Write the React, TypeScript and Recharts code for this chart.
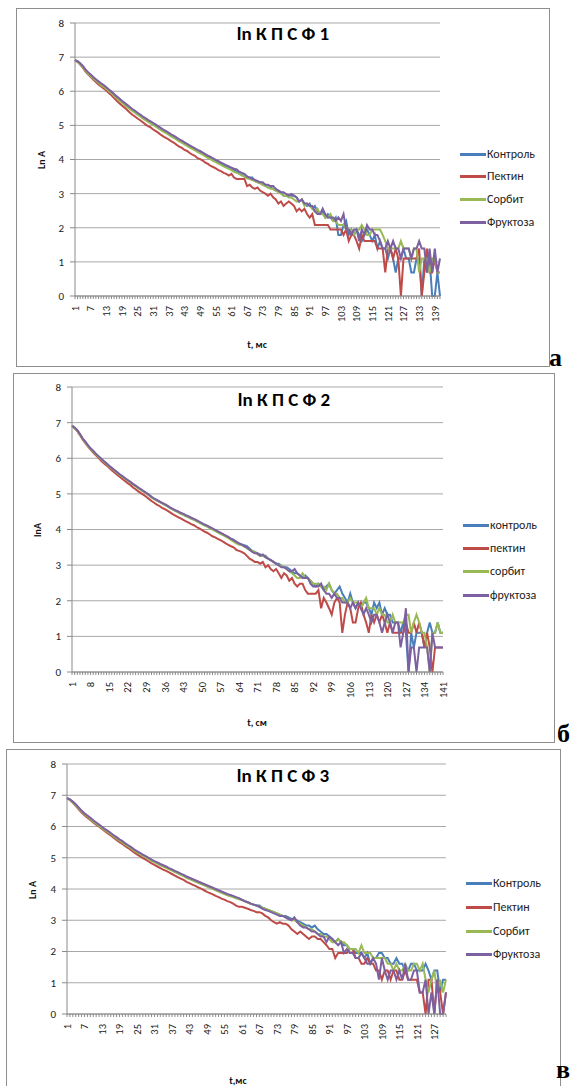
import React from 'react';
import { LineChart, Line, XAxis, YAxis, CartesianGrid } from 'recharts';

// ---------- categories (t) ----------
const p1T: number[] = Array.from({ length: 141 }, (_, i) => i + 1);
const p2T: number[] = Array.from({ length: 141 }, (_, i) => i + 1);
const p3T: number[] = Array.from({ length: 131 }, (_, i) => i + 1);
const yTicks = [0, 1, 2, 3, 4, 5, 6, 7, 8];

// ---------- panel 1 : ln К П С Ф 1 ----------
const p1Control = [
  6.91, 6.87, 6.80, 6.72, 6.62, 6.54, 6.47, 6.40, 6.33, 6.27,
  6.21, 6.16, 6.10, 6.03, 5.97, 5.90, 5.83, 5.77, 5.70, 5.64,
  5.58, 5.52, 5.46, 5.41, 5.35, 5.30, 5.24, 5.19, 5.14, 5.10,
  5.05, 5.00, 4.95, 4.90, 4.85, 4.81, 4.76, 4.71, 4.67, 4.62,
  4.57, 4.53, 4.48, 4.44, 4.39, 4.35, 4.31, 4.26, 4.22, 4.18,
  4.13, 4.09, 4.05, 4.00, 3.96, 3.93, 3.87, 3.85, 3.79, 3.78,
  3.71, 3.69, 3.64, 3.58, 3.56, 3.50, 3.50, 3.47, 3.47, 3.37,
  3.33, 3.33, 3.26, 3.26, 3.18, 3.18, 3.14, 3.09, 3.09, 3.04,
  2.94, 2.94, 2.96, 2.94, 2.94, 2.89, 2.77, 2.83, 2.71, 2.64,
  2.71, 2.56, 2.64, 2.48, 2.40, 2.48, 2.30, 2.40, 2.30, 2.20,
  2.30, 1.79, 1.79, 2.08, 2.20, 1.79, 1.95, 1.79, 1.95, 1.79,
  1.61, 1.79, 1.95, 1.79, 1.61, 1.79, 1.39, 1.61, 1.39, 1.39,
  1.10, 1.39, 1.10, 0.69, 1.10, 1.10, 1.39, 1.10, 1.10, 0.69,
  0.69, 1.10, 1.10, 0, 1.10, 0.69, 1.10, 0, 0, 0.69, 0,
];
const p1Pectin = [
  6.91, 6.86, 6.78, 6.69, 6.58, 6.50, 6.42, 6.34, 6.27, 6.20,
  6.14, 6.08, 6.02, 5.95, 5.88, 5.80, 5.72, 5.65, 5.58, 5.52,
  5.45, 5.38, 5.31, 5.26, 5.20, 5.15, 5.09, 5.03, 4.98, 4.94,
  4.88, 4.83, 4.78, 4.72, 4.67, 4.63, 4.58, 4.53, 4.49, 4.43,
  4.38, 4.34, 4.28, 4.25, 4.19, 4.14, 4.11, 4.04, 4.01, 3.97,
  3.91, 3.87, 3.81, 3.78, 3.74, 3.69, 3.66, 3.61, 3.58, 3.53,
  3.58, 3.47, 3.43, 3.43, 3.43, 3.43, 3.22, 3.26, 3.18, 3.14,
  3.18, 3.09, 3.04, 3.00, 2.94, 3.00, 2.89, 2.83, 2.71, 2.77,
  2.64, 2.71, 2.77, 2.71, 2.64, 2.48, 2.56, 2.48, 2.56, 2.40,
  2.30, 2.40, 2.08, 2.08, 2.08, 2.08, 2.08, 2.08, 1.95, 1.95,
  1.95, 1.95, 1.95, 1.79, 1.95, 1.61, 1.79, 1.79, 1.61, 1.39,
  1.79, 1.61, 1.61, 1.61, 1.61, 1.61, 1.39, 1.39, 1.39, 0.69,
  1.39, 1.39, 1.10, 1.39, 1.10, 0, 1.10, 1.10, 1.10, 1.10,
  1.10, 1.10, 1.39, 0, 0.69, 1.39, 0.69, 0.69, 1.10, 0.69, 0.69,
];
const p1Sorbit = [
  6.91, 6.86, 6.79, 6.71, 6.61, 6.52, 6.45, 6.38, 6.31, 6.25,
  6.18, 6.13, 6.07, 6.00, 5.94, 5.87, 5.80, 5.73, 5.66, 5.60,
  5.54, 5.48, 5.42, 5.37, 5.31, 5.26, 5.20, 5.15, 5.10, 5.06,
  5.01, 4.96, 4.91, 4.86, 4.81, 4.77, 4.72, 4.67, 4.63, 4.58,
  4.53, 4.49, 4.44, 4.40, 4.35, 4.31, 4.27, 4.22, 4.18, 4.14,
  4.09, 4.05, 4.01, 3.96, 3.92, 3.88, 3.84, 3.80, 3.76, 3.73,
  3.69, 3.64, 3.61, 3.58, 3.53, 3.50, 3.45, 3.43, 3.40, 3.37,
  3.33, 3.30, 3.26, 3.22, 3.18, 3.14, 3.14, 3.09, 3.04, 3.00,
  2.94, 2.94, 2.89, 2.89, 2.83, 2.77, 2.77, 2.83, 2.64, 2.71,
  2.64, 2.56, 2.48, 2.56, 2.40, 2.40, 2.30, 2.30, 2.40, 2.20,
  2.20, 2.08, 2.08, 2.08, 1.95, 1.95, 1.95, 1.79, 1.95, 1.95,
  2.08, 1.95, 1.79, 1.79, 1.95, 1.95, 1.95, 1.95, 1.79, 1.61,
  1.39, 1.39, 1.39, 1.39, 1.39, 1.61, 1.39, 1.39, 1.39, 1.10,
  1.39, 1.39, 0.69, 1.10, 1.10, 1.10, 0.69, 1.10, 1.10, 0.69, 0.69,
];
const p1Fructose = [
  6.91, 6.88, 6.82, 6.74, 6.64, 6.56, 6.49, 6.42, 6.35, 6.29,
  6.23, 6.18, 6.12, 6.05, 5.99, 5.92, 5.85, 5.79, 5.72, 5.66,
  5.60, 5.54, 5.48, 5.43, 5.37, 5.32, 5.26, 5.21, 5.16, 5.12,
  5.07, 5.02, 4.97, 4.92, 4.87, 4.83, 4.78, 4.73, 4.69, 4.64,
  4.59, 4.55, 4.50, 4.46, 4.41, 4.37, 4.33, 4.28, 4.25, 4.20,
  4.16, 4.11, 4.08, 4.03, 3.99, 3.95, 3.91, 3.87, 3.83, 3.80,
  3.76, 3.73, 3.71, 3.64, 3.61, 3.58, 3.50, 3.47, 3.43, 3.40,
  3.37, 3.33, 3.33, 3.26, 3.26, 3.22, 3.22, 3.14, 3.09, 3.04,
  3.04, 2.99, 2.94, 2.99, 2.94, 2.89, 2.77, 2.83, 2.71, 2.71,
  2.64, 2.64, 2.48, 2.40, 2.40, 2.56, 2.40, 2.30, 2.30, 2.30,
  2.20, 2.30, 2.20, 2.40, 1.95, 1.95, 1.79, 1.95, 1.95, 1.61,
  1.95, 1.79, 2.08, 1.95, 1.95, 1.79, 1.79, 1.61, 1.39, 1.39,
  1.61, 1.39, 1.61, 1.39, 1.39, 1.10, 1.39, 1.39, 1.39, 1.10,
  1.39, 1.39, 1.61, 1.39, 1.39, 0.69, 1.39, 0.69, 1.39, 0.69, 1.10,
];

// ---------- panel 2 : ln К П С Ф 2 ----------
const p2Control = [
  6.91, 6.85, 6.78, 6.67, 6.55, 6.46, 6.36, 6.27, 6.20, 6.12,
  6.05, 5.98, 5.91, 5.85, 5.78, 5.72, 5.66, 5.60, 5.54, 5.49,
  5.43, 5.38, 5.33, 5.27, 5.22, 5.17, 5.12, 5.07, 5.02, 4.97,
  4.91, 4.86, 4.82, 4.78, 4.74, 4.70, 4.66, 4.61, 4.57, 4.53,
  4.50, 4.46, 4.43, 4.39, 4.36, 4.32, 4.29, 4.25, 4.21, 4.17,
  4.13, 4.10, 4.06, 4.02, 3.98, 3.94, 3.90, 3.86, 3.82, 3.78,
  3.74, 3.71, 3.64, 3.61, 3.58, 3.56, 3.53, 3.47, 3.40, 3.37,
  3.33, 3.30, 3.26, 3.26, 3.18, 3.14, 3.09, 3.04, 3.04, 2.99,
  2.94, 2.94, 2.89, 2.83, 2.77, 2.77, 2.71, 2.64, 2.71, 2.64,
  2.56, 2.48, 2.40, 2.48, 2.40, 2.30, 2.40, 2.48, 2.30, 2.20,
  2.30, 2.40, 2.20, 2.08, 1.95, 2.20, 1.95, 1.79, 1.95, 1.79,
  1.95, 1.95, 1.79, 1.61, 1.95, 1.79, 1.95, 1.61, 1.79, 1.61,
  1.61, 1.39, 1.39, 1.39, 1.10, 1.39, 1.10, 0, 1.10, 0.69,
  1.10, 1.10, 1.10, 0.69, 1.10, 1.39, 1.10, 1.10, 1.39, 1.10, 1.10,
];
const p2Pectin = [
  6.91, 6.84, 6.76, 6.65, 6.53, 6.43, 6.33, 6.24, 6.16, 6.08,
  6.01, 5.93, 5.86, 5.80, 5.73, 5.66, 5.60, 5.54, 5.48, 5.42,
  5.36, 5.30, 5.25, 5.18, 5.13, 5.07, 5.02, 4.97, 4.92, 4.86,
  4.80, 4.75, 4.70, 4.66, 4.61, 4.57, 4.53, 4.48, 4.43, 4.39,
  4.35, 4.31, 4.27, 4.23, 4.19, 4.15, 4.12, 4.07, 4.03, 3.99,
  3.94, 3.91, 3.86, 3.81, 3.78, 3.74, 3.70, 3.66, 3.61, 3.57,
  3.53, 3.50, 3.43, 3.40, 3.37, 3.33, 3.26, 3.18, 3.14, 3.09,
  3.09, 3.04, 3.09, 2.94, 3.00, 2.89, 2.83, 2.89, 2.77, 2.64,
  2.77, 2.71, 2.56, 2.64, 2.48, 2.40, 2.48, 2.48, 2.30, 2.20,
  2.20, 2.20, 2.20, 2.30, 1.79, 2.08, 1.95, 1.79, 1.61, 1.95,
  2.08, 1.95, 1.10, 1.61, 1.95, 1.79, 1.39, 1.39, 1.79, 1.95,
  1.61, 1.39, 1.10, 1.61, 1.39, 1.61, 1.39, 1.61, 1.39, 1.10,
  1.39, 1.10, 1.10, 1.10, 1.10, 1.10, 1.39, 1.10, 1.10, 1.39,
  1.10, 1.39, 1.10, 0.69, 1.10, 0.69, 0, 0.69, 0.69, 0.69, 0.69,
];
const p2Sorbit = [
  6.91, 6.84, 6.77, 6.66, 6.54, 6.45, 6.35, 6.26, 6.19, 6.11,
  6.04, 5.97, 5.90, 5.84, 5.77, 5.71, 5.65, 5.59, 5.53, 5.48,
  5.42, 5.37, 5.32, 5.26, 5.21, 5.16, 5.11, 5.06, 5.01, 4.96,
  4.90, 4.85, 4.81, 4.77, 4.73, 4.69, 4.65, 4.60, 4.56, 4.52,
  4.48, 4.44, 4.41, 4.37, 4.34, 4.30, 4.27, 4.23, 4.19, 4.15,
  4.11, 4.08, 4.04, 4.00, 3.96, 3.92, 3.88, 3.84, 3.80, 3.76,
  3.71, 3.66, 3.61, 3.58, 3.56, 3.53, 3.47, 3.43, 3.40, 3.37,
  3.30, 3.26, 3.26, 3.22, 3.18, 3.14, 3.09, 3.04, 3.00, 2.99,
  2.94, 2.89, 2.83, 2.77, 2.71, 2.64, 2.64, 2.77, 2.64, 2.64,
  2.56, 2.48, 2.48, 2.48, 2.40, 2.40, 2.30, 2.48, 2.30, 2.20,
  2.20, 2.08, 2.08, 1.95, 1.95, 2.08, 1.95, 1.95, 1.95, 1.79,
  1.95, 2.08, 1.79, 1.79, 1.79, 1.61, 1.79, 1.61, 1.61, 1.39,
  1.39, 1.61, 1.39, 1.39, 1.39, 1.39, 1.61, 1.61, 1.10, 1.39,
  1.61, 1.39, 1.10, 1.10, 0.69, 0, 1.10, 1.10, 1.39, 1.10, 1.10,
];
const p2Fructose = [
  6.91, 6.86, 6.79, 6.68, 6.56, 6.47, 6.37, 6.28, 6.21, 6.13,
  6.06, 5.99, 5.92, 5.86, 5.79, 5.73, 5.67, 5.61, 5.55, 5.50,
  5.44, 5.39, 5.34, 5.28, 5.23, 5.18, 5.13, 5.08, 5.03, 4.98,
  4.92, 4.87, 4.83, 4.79, 4.75, 4.71, 4.67, 4.62, 4.58, 4.54,
  4.51, 4.47, 4.44, 4.40, 4.37, 4.33, 4.30, 4.26, 4.22, 4.18,
  4.14, 4.11, 4.07, 4.03, 3.99, 3.95, 3.91, 3.87, 3.83, 3.79,
  3.74, 3.70, 3.66, 3.61, 3.58, 3.53, 3.50, 3.43, 3.37, 3.33,
  3.33, 3.26, 3.30, 3.22, 3.18, 3.14, 3.09, 3.04, 2.99, 2.94,
  2.94, 2.89, 2.83, 2.83, 2.89, 2.77, 2.71, 2.64, 2.64, 2.64,
  2.48, 2.40, 2.40, 2.40, 2.48, 2.30, 2.20, 2.20, 2.08, 2.20,
  2.08, 2.08, 1.95, 1.95, 1.95, 1.79, 1.95, 1.79, 1.95, 1.79,
  1.61, 1.79, 1.61, 1.39, 1.61, 1.61, 1.39, 1.10, 1.39, 1.61,
  1.39, 1.10, 1.39, 1.39, 0.69, 1.10, 1.79, 0, 0.69, 0.69,
  0, 0.69, 0.69, 0.69, 0.69, 0, 1.10, 0.69, 0.69, 0.69, 0.69,
];

// ---------- panel 3 : ln К П С Ф 3 ----------
const p3Control = [
  6.91, 6.86, 6.78, 6.69, 6.59, 6.49, 6.40, 6.33, 6.26, 6.18,
  6.11, 6.04, 5.97, 5.90, 5.84, 5.77, 5.70, 5.64, 5.57, 5.51,
  5.44, 5.38, 5.32, 5.25, 5.19, 5.14, 5.08, 5.03, 4.98, 4.92,
  4.87, 4.83, 4.78, 4.74, 4.70, 4.65, 4.61, 4.56, 4.52, 4.47,
  4.43, 4.38, 4.34, 4.30, 4.26, 4.22, 4.18, 4.14, 4.10, 4.06,
  4.02, 3.98, 3.94, 3.90, 3.86, 3.82, 3.79, 3.76, 3.72, 3.69,
  3.66, 3.61, 3.58, 3.53, 3.50, 3.47, 3.47, 3.40, 3.37, 3.33,
  3.30, 3.26, 3.22, 3.18, 3.14, 3.14, 3.09, 3.04, 3.04, 2.99,
  2.94, 2.89, 2.83, 2.83, 2.77, 2.83, 2.71, 2.64, 2.56, 2.56,
  2.48, 2.40, 2.30, 2.40, 2.30, 2.20, 2.20, 2.08, 2.08, 1.95,
  1.95, 1.95, 1.79, 1.95, 1.61, 1.79, 1.79, 1.95, 1.95, 1.79,
  1.79, 1.61, 1.61, 1.79, 1.61, 1.61, 1.39, 1.39, 1.61, 1.61,
  1.39, 1.39, 1.39, 1.61, 1.39, 1.10, 1.39, 1.39, 0.69, 1.10, 1.10,
];
const p3Pectin = [
  6.91, 6.85, 6.76, 6.66, 6.55, 6.45, 6.36, 6.28, 6.21, 6.13,
  6.06, 5.99, 5.92, 5.85, 5.78, 5.71, 5.64, 5.57, 5.50, 5.44,
  5.37, 5.31, 5.24, 5.17, 5.11, 5.05, 4.99, 4.94, 4.88, 4.82,
  4.77, 4.72, 4.67, 4.62, 4.58, 4.53, 4.48, 4.43, 4.38, 4.33,
  4.29, 4.23, 4.19, 4.14, 4.10, 4.05, 4.01, 3.96, 3.91, 3.87,
  3.83, 3.78, 3.74, 3.69, 3.66, 3.61, 3.58, 3.53, 3.47, 3.43,
  3.43, 3.40, 3.37, 3.33, 3.30, 3.26, 3.26, 3.22, 3.14, 3.09,
  3.00, 2.94, 2.89, 2.94, 2.89, 2.89, 2.83, 2.71, 2.64, 2.56,
  2.64, 2.56, 2.48, 2.40, 2.48, 2.48, 2.40, 2.40, 2.30, 2.20,
  2.08, 2.08, 1.79, 1.95, 1.95, 1.95, 1.95, 2.08, 2.08, 1.79,
  1.79, 1.61, 1.61, 1.79, 1.61, 1.61, 1.39, 1.39, 1.10, 1.39,
  1.39, 1.10, 1.39, 1.39, 1.10, 1.10, 1.39, 1.10, 1.10, 1.10,
  1.10, 0.69, 0.69, 0, 1.10, 1.10, 0, 1.10, 0.69, 0, 0.69,
];
const p3Sorbit = [
  6.91, 6.85, 6.77, 6.68, 6.58, 6.48, 6.39, 6.32, 6.24, 6.16,
  6.09, 6.02, 5.95, 5.88, 5.82, 5.75, 5.68, 5.62, 5.55, 5.49,
  5.42, 5.36, 5.30, 5.23, 5.17, 5.12, 5.06, 5.01, 4.96, 4.90,
  4.85, 4.81, 4.76, 4.72, 4.68, 4.63, 4.59, 4.54, 4.50, 4.45,
  4.41, 4.36, 4.32, 4.28, 4.24, 4.20, 4.16, 4.12, 4.08, 4.04,
  4.00, 3.96, 3.92, 3.88, 3.84, 3.80, 3.77, 3.74, 3.70, 3.67,
  3.65, 3.61, 3.56, 3.53, 3.50, 3.47, 3.43, 3.40, 3.37, 3.33,
  3.30, 3.26, 3.22, 3.18, 3.14, 3.09, 3.04, 3.00, 3.00, 2.94,
  2.89, 2.83, 2.77, 2.71, 2.71, 2.64, 2.56, 2.56, 2.48, 2.48,
  2.40, 2.30, 2.30, 2.40, 2.30, 2.30, 2.20, 2.08, 2.08, 2.08,
  1.95, 2.20, 1.95, 1.95, 1.95, 1.79, 1.79, 1.79, 1.79, 1.79,
  1.61, 1.61, 1.39, 1.61, 1.39, 1.39, 1.61, 1.39, 1.39, 1.61,
  1.61, 1.39, 1.61, 1.10, 0.69, 1.10, 1.39, 0.69, 1.10, 0.69, 1.10,
];
const p3Fructose = [
  6.91, 6.87, 6.80, 6.71, 6.61, 6.51, 6.42, 6.35, 6.28, 6.20,
  6.13, 6.06, 5.99, 5.92, 5.86, 5.79, 5.72, 5.66, 5.59, 5.53,
  5.46, 5.40, 5.34, 5.27, 5.21, 5.16, 5.10, 5.05, 5.00, 4.94,
  4.89, 4.85, 4.80, 4.76, 4.72, 4.67, 4.63, 4.58, 4.54, 4.49,
  4.45, 4.40, 4.36, 4.32, 4.28, 4.24, 4.20, 4.16, 4.12, 4.08,
  4.04, 4.00, 3.96, 3.92, 3.88, 3.84, 3.81, 3.78, 3.74, 3.71,
  3.65, 3.61, 3.58, 3.53, 3.50, 3.47, 3.43, 3.37, 3.33, 3.30,
  3.26, 3.22, 3.18, 3.14, 3.14, 3.09, 3.04, 3.00, 3.09, 2.94,
  2.83, 2.77, 2.77, 2.71, 2.64, 2.64, 2.56, 2.48, 2.48, 2.30,
  2.48, 2.40, 2.30, 2.20, 2.30, 1.95, 2.08, 1.95, 1.95, 1.79,
  1.79, 1.95, 1.79, 1.61, 1.61, 1.79, 1.61, 1.10, 1.79, 1.39,
  1.10, 1.39, 1.39, 1.10, 1.39, 1.10, 1.61, 1.10, 1.10, 1.39,
  1.39, 0.69, 0.69, 1.10, 0, 0.69, 0, 1.10, 0, 0, 0.69,
];

// ---------- legend names ----------
const namesCap = ['Контроль', 'Пектин', 'Сорбит', 'Фруктоза'];
const namesLow = ['контроль', 'пектин', 'сорбит', 'фруктоза'];
const seriesKeys = ['c', 'p', 's', 'f'];
const colors = ['#4a7ebb', '#be4b48', '#98b954', '#7d60a0'];

const FONT = "Carlito, Calibri, Roboto, 'Noto Sans', sans-serif";

const buildRows = (t: number[], c: number[], p: number[], s: number[], f: number[]) =>
  t.map((v, i) => ({ t: v, c: c[i], p: p[i], s: s[i], f: f[i] }));

const p1Rows = buildRows(p1T, p1Control, p1Pectin, p1Sorbit, p1Fructose);
const p2Rows = buildRows(p2T, p2Control, p2Pectin, p2Sorbit, p2Fructose);
const p3Rows = buildRows(p3T, p3Control, p3Pectin, p3Sorbit, p3Fructose);

const makeXTick = (every: number) => (props: any) => {
  const { x, y, payload } = props;
  const v = payload?.value;
  const show = (Number(v) - 1) % every === 0;
  return (
    <g transform={`translate(${x},${y})`}>
      <line x1={0} y1={0} x2={0} y2={3} stroke="#8a8a8a" strokeWidth={1} />
      {show && (
        <text
          transform="translate(0,10) rotate(-90)"
          textAnchor="end"
          dy="0.36em"
          fontSize={10.5}
          fontFamily={FONT}
          fill="#222"
        >
          {v}
        </text>
      )}
    </g>
  );
};

type Cfg = {
  left: number; top: number; w: number; h: number;
  yAxisW: number; marginRight: number; plotTop: number; xAxisH: number;
  rows: any[]; every: number; names: string[];
  title: string; yLabel: string; xLabel: string;
  titlePos: [number, number]; yLabelPos: [number, number]; xLabelPos: [number, number];
  legendX: number; legendYs: number[];
  frameH: number;
};

const Panel = ({ cfg }: { cfg: Cfg }) => (
  <div style={{ position: 'absolute', left: cfg.left, top: cfg.top, width: cfg.w, height: cfg.h }}>
    <div
      style={{
        position: 'absolute', left: 0, top: 0, width: cfg.w, height: cfg.frameH,
        border: '1px solid #8e8e8e', boxSizing: 'border-box', background: '#fff',
      }}
    />
    <div style={{ position: 'absolute', left: 0, top: 0 }}>
      <LineChart
        width={cfg.w}
        height={cfg.h}
        data={cfg.rows}
        margin={{ top: cfg.plotTop, right: cfg.marginRight, left: 0, bottom: 0 }}
        style={{ fontFamily: FONT }}
      >
        <CartesianGrid vertical={false} stroke="#a8a8a8" strokeWidth={1} />
        <XAxis
          dataKey="t"
          type="category"
          interval={0}
          tickLine={false}
          tickSize={0}
          tickMargin={0}
          height={cfg.xAxisH}
          axisLine={{ stroke: '#8a8a8a' }}
          tick={makeXTick(cfg.every)}
        />
        <YAxis
          type="number"
          domain={[0, 8]}
          ticks={yTicks}
          interval={0}
          width={cfg.yAxisW}
          tickSize={5}
          tickMargin={6}
          axisLine={{ stroke: '#8a8a8a' }}
          tickLine={{ stroke: '#8a8a8a' }}
          tick={{ fontSize: 11, fill: '#222', fontFamily: FONT }}
        />
        {seriesKeys.map((k, i) => (
          <Line
            key={k}
            type="linear"
            dataKey={k}
            name={cfg.names[i]}
            stroke={colors[i]}
            strokeWidth={2}
            dot={false}
            activeDot={false}
            isAnimationActive={false}
          />
        ))}
      </LineChart>
    </div>
    <div
      style={{
        position: 'absolute', left: cfg.titlePos[0], top: cfg.titlePos[1],
        transform: 'translate(-50%,-50%)', fontSize: 19, fontWeight: 700,
        whiteSpace: 'nowrap', fontFamily: FONT, color: '#000',
      }}
    >
      {cfg.title}
    </div>
    <div
      style={{
        position: 'absolute', left: cfg.yLabelPos[0], top: cfg.yLabelPos[1],
        transform: 'translate(-50%,-50%) rotate(-90deg)', fontSize: 10, fontWeight: 700,
        whiteSpace: 'nowrap', fontFamily: FONT, color: '#111',
      }}
    >
      {cfg.yLabel}
    </div>
    <div
      style={{
        position: 'absolute', left: cfg.xLabelPos[0], top: cfg.xLabelPos[1],
        transform: 'translate(-50%,-50%)', fontSize: 10, fontWeight: 700,
        whiteSpace: 'nowrap', fontFamily: FONT, color: '#111',
      }}
    >
      {cfg.xLabel}
    </div>
    {cfg.names.map((n, i) => (
      <React.Fragment key={n}>
        <div
          style={{
            position: 'absolute', left: cfg.legendX, top: cfg.legendYs[i] - 1.5,
            width: 26, height: 3, background: colors[i],
          }}
        />
        <div
          style={{
            position: 'absolute', left: cfg.legendX + 27, top: cfg.legendYs[i] - 7.5,
            fontSize: 12, lineHeight: '15px', whiteSpace: 'nowrap', fontFamily: FONT, color: '#222',
          }}
        >
          {n}
        </div>
      </React.Fragment>
    ))}
  </div>
);

const cfg1: Cfg = {
  left: 16, top: 8, w: 534, h: 359, frameH: 359,
  yAxisW: 59, marginRight: 110, plotTop: 15, xAxisH: 71,
  rows: p1Rows, every: 6, names: namesCap,
  title: 'ln К П С Ф 1', yLabel: 'Ln A', xLabel: 't, мс',
  titlePos: [267, 25], yLabelPos: [25, 152], xLabelPos: [241, 336],
  legendX: 444, legendYs: [146, 168, 191, 214],
};
const cfg2: Cfg = {
  left: 13, top: 373, w: 542, h: 370, frameH: 370,
  yAxisW: 59, marginRight: 112, plotTop: 14, xAxisH: 71,
  rows: p2Rows, every: 7, names: namesLow,
  title: 'ln К П С Ф 2', yLabel: 'lnA', xLabel: 't, см',
  titlePos: [271, 26], yLabelPos: [24, 157], xLabelPos: [244, 349],
  legendX: 450, legendYs: [152, 175, 198, 222],
};
const cfg3: Cfg = {
  left: 6, top: 749, w: 555, h: 360, frameH: 360,
  yAxisW: 61, marginRight: 115, plotTop: 15, xAxisH: 95,
  rows: p3Rows, every: 6, names: namesCap,
  title: 'ln К П С Ф 3', yLabel: 'Ln A', xLabel: 't,мс',
  titlePos: [277, 26], yLabelPos: [26, 141], xLabelPos: [232, 331],
  legendX: 460, legendYs: [134, 158, 182, 205],
};

const letterStyle: React.CSSProperties = {
  position: 'absolute', fontFamily: "'Times New Roman', 'Liberation Serif', serif",
  fontWeight: 700, fontSize: 26, lineHeight: '26px', color: '#000',
};

export default function App() {
  return (
    <div
      style={{
        position: 'absolute', left: 0, top: 0, width: 572, height: 1086,
        overflow: 'hidden', background: '#fff',
      }}
    >
      <Panel cfg={cfg1} />
      <Panel cfg={cfg2} />
      <Panel cfg={cfg3} />
      <div style={{ ...letterStyle, left: 549, top: 345 }}>а</div>
      <div style={{ ...letterStyle, left: 557, top: 721 }}>б</div>
      <div style={{ ...letterStyle, left: 556, top: 1057 }}>в</div>
    </div>
  );
}
